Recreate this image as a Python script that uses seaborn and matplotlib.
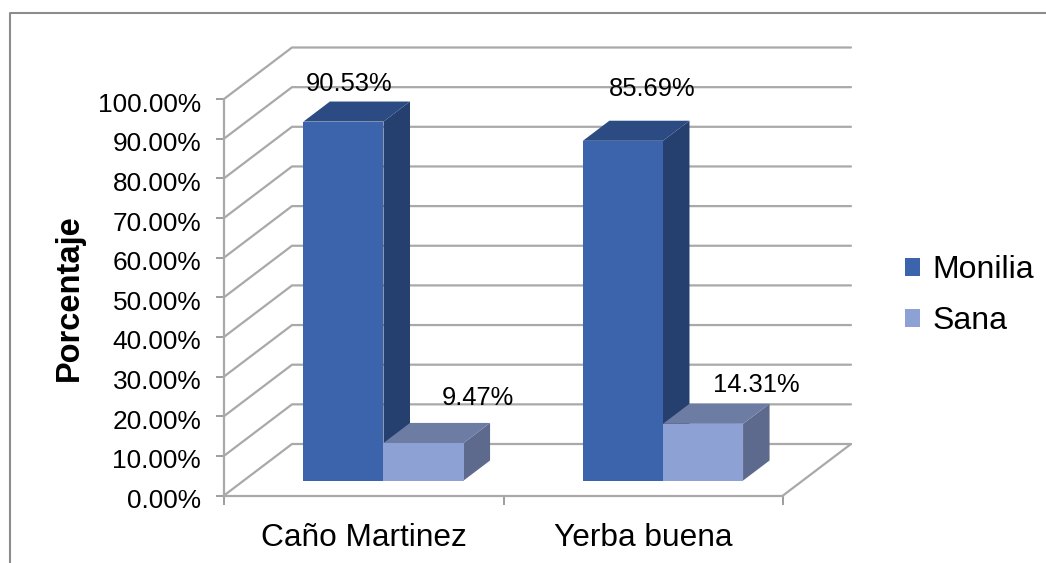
import matplotlib
matplotlib.use("Agg")
import matplotlib.pyplot as plt
from matplotlib.lines import Line2D
from matplotlib.patches import Polygon
from matplotlib.transforms import ScaledTranslation
import pandas as pd
import seaborn as sns

categories = ["Caño Martinez", "Yerba buena"]
series_names = ["Monilia", "Sana"]
monilia = [90.53, 85.69]
sana = [9.47, 14.31]
y_ticks = list(range(0, 101, 10))

sns.set_theme(style="white")
plt.rcParams["font.family"] = ["Liberation Sans", "DejaVu Sans"]

W, H = 1046, 563
fig = plt.figure(figsize=(W / 100, H / 100), dpi=100, facecolor="white")

# plot box of the front plane, in pixels
X0, X1, Y0, Y1 = 224.0, 783.0, 495.5, 99.0
PX_X = (X1 - X0) / 2.0       # px per category
PX_Y = (Y0 - Y1) / 100.0     # px per percent
DEPTH_X, DEPTH_Y = 68.0, 51.5  # full floor depth, px
BAR_START, BAR_DEPTH = 0.29, 0.39  # fractions of the floor depth
GRID = "#a9a9a9"


def add_axes(dx, dy):
    a = fig.add_axes([(X0 + dx) / W, (H - Y0 + dy) / H, (X1 - X0) / W, (Y0 - Y1) / H])
    a.set_xlim(-0.5, 1.5)
    a.set_ylim(0, 100)
    a.patch.set_alpha(0)
    return a


ax = add_axes(0, 0)
ax_bars = add_axes(DEPTH_X * BAR_START, DEPTH_Y * BAR_START)

# walls
wall_dx = DEPTH_X / PX_X
wall_dy = DEPTH_Y / PX_Y
for v in y_ticks:
    ax.plot([-0.5, -0.5 + wall_dx, 1.5 + wall_dx], [v, v + wall_dy, v + wall_dy],
            color=GRID, lw=1.6, clip_on=False, zorder=1, solid_joinstyle="miter")
ax.plot([1.5, 1.5 + wall_dx], [0, wall_dy], color=GRID, lw=1.6, clip_on=False, zorder=1)

for s in ["top", "right"]:
    ax.spines[s].set_visible(False)
for s in ["left", "bottom"]:
    ax.spines[s].set_color(GRID)
    ax.spines[s].set_linewidth(1.6)
ax.set_yticks(y_ticks)
ax.set_yticklabels([f"{v:.2f}%" for v in y_ticks], fontsize=18.9, color="black")
ax.set_xticks([0, 1])
ax.set_xticklabels(categories, fontsize=22.8, color="black")
ax.set_xticks([-0.5, 0.5, 1.5], minor=True)
ax.tick_params(axis="y", length=5.5, width=1.2, color="#8c8c8c", pad=11, left=True)
ax.tick_params(axis="x", which="major", length=0, pad=19.5)
ax.tick_params(axis="x", which="minor", length=6.5, width=1.2, color="#8c8c8c", bottom=True)
shift_down = ScaledTranslation(0, -2.2 / 72, fig.dpi_scale_trans)
for lab in ax.get_yticklabels():
    lab.set_transform(lab.get_transform() + shift_down)
ax.set_xlabel("")
ax.set_ylabel("Porcentaje", fontsize=23.5, fontweight="bold", color="black")
ax.yaxis.set_label_coords((85 - X0) / (X1 - X0), (Y0 - 298) / (Y0 - Y1))

# bars
df = pd.DataFrame({
    "categoria": categories * 2,
    "serie": [series_names[0]] * 2 + [series_names[1]] * 2,
    "valor": monilia + sana,
})
front = ["#3B64AD", "#8EA1D4"]
side = ["#253F6E", "#5D6A8D"]
top = ["#2C4B82", "#6C7CA3"]
sns.barplot(data=df, x="categoria", y="valor", hue="serie", hue_order=series_names,
            palette=front, width=0.573, gap=0, saturation=1, linewidth=0,
            ax=ax_bars, legend=False, clip_on=False)
ax_bars.set_xlim(-0.5, 1.5)
ax_bars.set_ylim(0, 100)
ax_bars.axis("off")

bdx = DEPTH_X * BAR_DEPTH / PX_X
bdy = DEPTH_Y * BAR_DEPTH / PX_Y
for i, container in enumerate(ax_bars.containers):
    for p in container.patches:
        l, r, h = p.get_x(), p.get_x() + p.get_width(), p.get_height()
        p.set_zorder(3 + 2 * i)
        ax_bars.add_patch(Polygon([(r, 0), (r + bdx, bdy), (r + bdx, h + bdy), (r, h)],
                                  closed=True, fc=side[i], ec="none", zorder=2 + 2 * i, clip_on=False))
        ax_bars.add_patch(Polygon([(l, h), (l + bdx, h + bdy), (r + bdx, h + bdy), (r, h)],
                                  closed=True, fc=top[i], ec="none", zorder=2 + 2 * i, clip_on=False))

# data labels: manual placement from each bar's top centre, in pixels
label_offsets = [[(6, 38), (29, 52)], [(54, 45), (53, 39)]]
for i, container in enumerate(ax_bars.containers):
    for j, p in enumerate(container.patches):
        ox, oy = label_offsets[i][j]
        ax_bars.annotate(f"{p.get_height():.2f}%",
                         (p.get_x() + p.get_width() / 2, p.get_height()),
                         xytext=(ox * 0.72, oy * 0.72), textcoords="offset points",
                         ha="center", va="center", fontsize=18.4, color="black",
                         zorder=10, annotation_clip=False)

# legend
handles = [plt.Rectangle((0, 0), 1, 1, fc=c, ec="none") for c in front]
fig.legend(handles, series_names, loc="center left", bbox_to_anchor=(904.5 / W, (H - 295.5) / H),
           frameon=False, fontsize=23, handlelength=0.5, handleheight=0.5,
           handletextpad=0.38, labelspacing=0.66, labelcolor="black",
           borderpad=0, borderaxespad=0)

# chart frame
frame = "#8c8c8c"
fig.add_artist(Line2D([10 / W, 10 / W, 1], [0, (H - 13) / H, (H - 13) / H],
                      color=frame, lw=1.5, transform=fig.transFigure))

fig.savefig("out.png", dpi=100, facecolor="white")
